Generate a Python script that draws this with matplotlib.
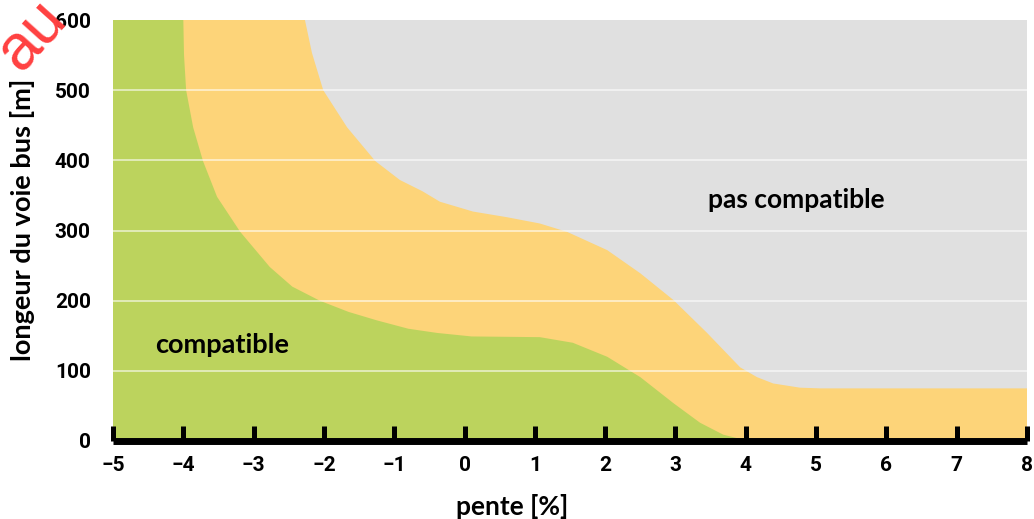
#!/usr/bin/env python3

import matplotlib.pyplot as plt

# boundary between "compatible" (green) and the transition band (orange)
green_x = [-4.0, -3.99, -3.96, -3.86, -3.72, -3.52, -3.19, -2.77, -2.45, -2.06,
           -1.65, -1.25, -0.8, -0.39, 0.1, 1.07, 1.54, 2.03, 2.5, 2.97,
           3.35, 3.68, 3.92, 4.1]
green_y = [600, 550, 500, 447, 399, 348, 298, 248, 220, 200,
           184, 172, 160, 154, 149, 148, 140, 120, 91, 54,
           26, 9, 3, 0]

# boundary between the orange band and "pas compatible" (grey)
orange_x = [-2.27, -2.17, -2.01, -1.67, -1.27, -0.92, -0.6, -0.35, 0.12, 0.6,
            1.07, 1.46, 2.03, 2.5, 2.97, 3.45, 3.92, 4.16, 4.39, 4.77,
            5.06, 8.0]
orange_y = [600, 553, 500, 447, 399, 372, 356, 341, 327, 319,
            310, 298, 272, 239, 201, 154, 105, 91, 82, 76,
            75, 75]

x_ticks = list(range(-5, 9))
y_ticks = [0, 100, 200, 300, 400, 500, 600]

fig = plt.figure(figsize=(10.34, 5.19), dpi=100)
ax = fig.add_axes([113 / 1034, 78 / 519, 914 / 1034, 421 / 519])
ax.set_facecolor('#e0e0e0')

ax.fill([-5, -5] + orange_x + [8], [0, 600] + orange_y + [0],
        color='#fdd479', lw=0, zorder=1)
ax.fill([-5, -5] + green_x, [0, 600] + green_y,
        color='#bcd35d', lw=0, zorder=1.1)

for y in y_ticks[1:-1]:
    ax.axhline(y, color='white', alpha=0.6, lw=1.3, zorder=1.2)

ax.text(-3.45, 137, 'compatible', fontsize=19.5, fontweight='bold',
        family='Lato', ha='center', va='center')
ax.text(4.72, 343, 'pas compatible', fontsize=19, fontweight='bold',
        family='Lato', ha='center', va='center')

ax.set_xlim(-5, 8)
ax.set_ylim(0, 600)
ax.set_xticks(x_ticks)
ax.set_yticks(y_ticks)

for s in ['top', 'right', 'left']:
    ax.spines[s].set_visible(False)
ax.spines['bottom'].set_linewidth(5)
ax.spines['bottom'].set_capstyle('butt')
ax.tick_params(axis='x', direction='in', length=11, width=3.6, color='black',
               pad=11, labelsize=15)
ax.tick_params(axis='y', length=0, pad=16, labelsize=15)
for lab in ax.get_xticklabels() + ax.get_yticklabels():
    lab.set_family('Roboto')
    lab.set_fontweight('bold')

ax.set_xlabel('pente [%]', fontsize=19, fontweight='bold', family='Lato')
ax.set_ylabel('longeur du voie bus [m]', fontsize=19.5, fontweight='bold',
              family='Lato')
ax.xaxis.set_label_coords(0.4365, -0.125)
ax.yaxis.set_label_coords(-0.085, 0.525)

fig.text(68 / 1034, 1 - 21 / 519, 'au', color='#ff4040', fontsize=46,
         family='Liberation Sans', rotation=48, rotation_mode='anchor',
         ha='right', va='baseline')

fig.savefig('out.png', dpi=100)
